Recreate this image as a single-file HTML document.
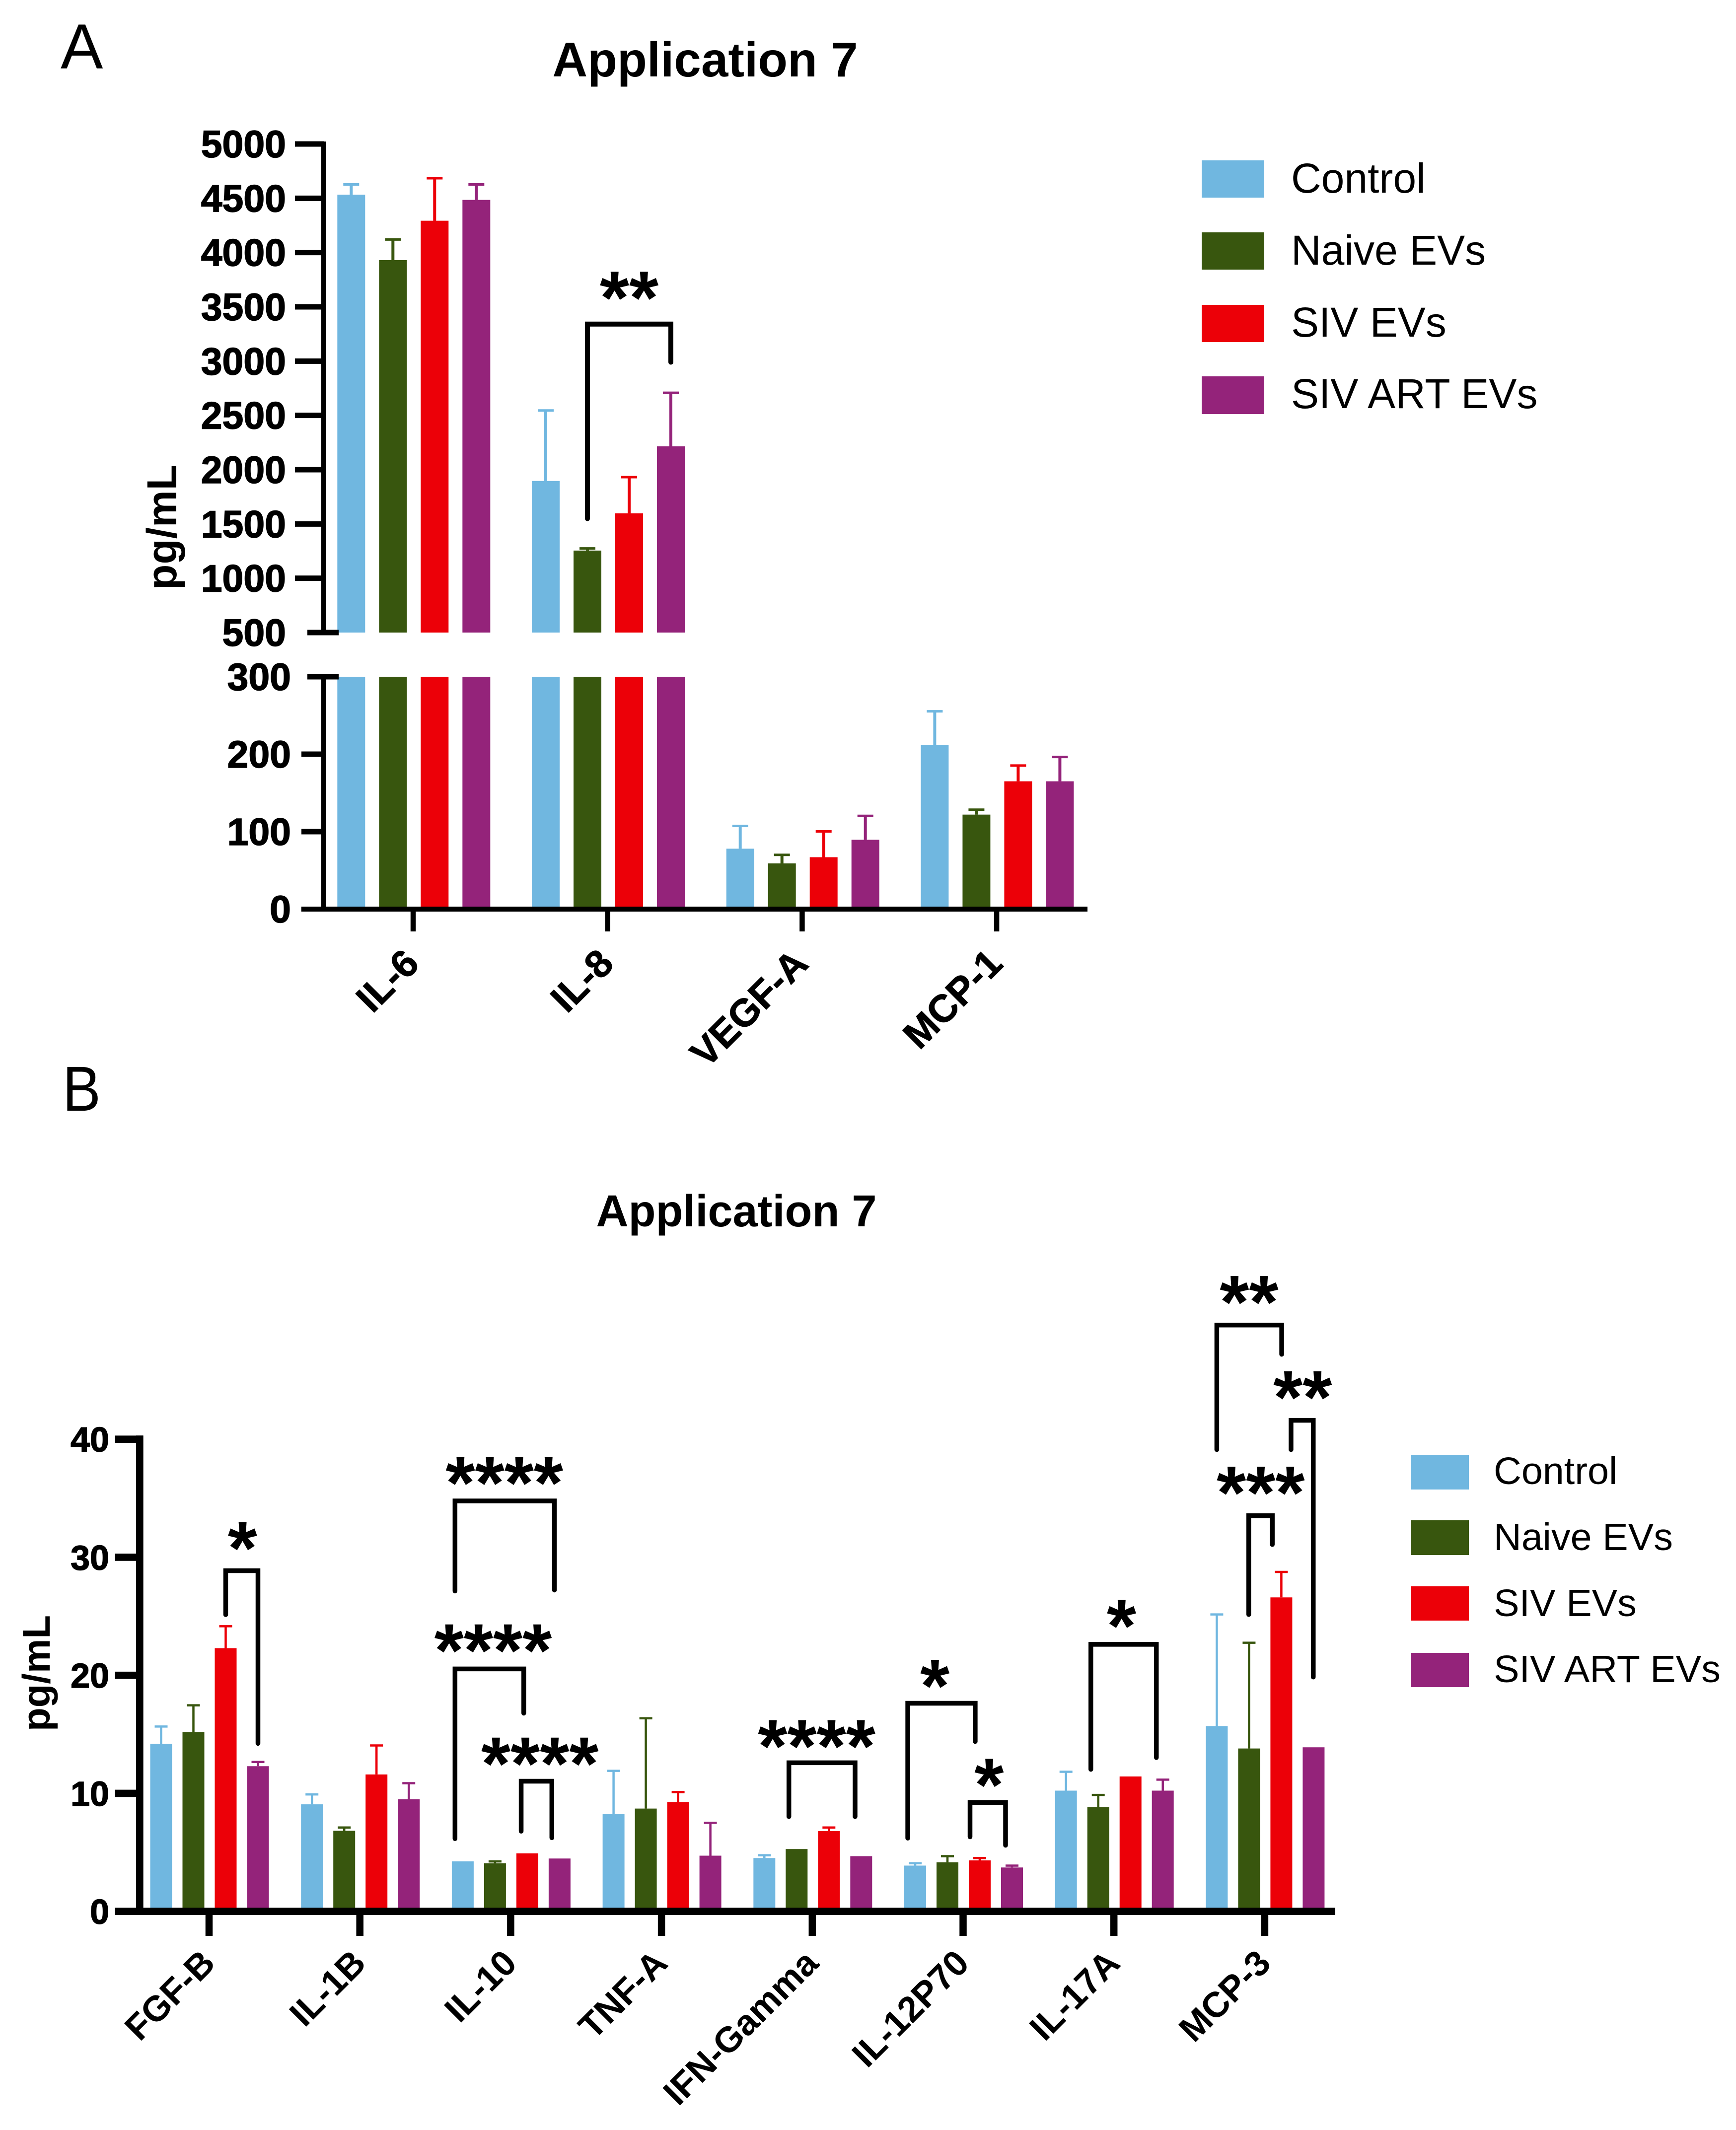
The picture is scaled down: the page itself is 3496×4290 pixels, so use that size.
<!DOCTYPE html>
<html lang="en">
<head>
<meta charset="utf-8">
<title>Application 7 cytokine bar charts</title>
<style>
html,body{margin:0;padding:0;background:#fff;}
svg{display:block;font-family:"Liberation Sans",Arial,sans-serif;}
text{fill:#000;}
.s0{fill:#70b7e0;}.s1{fill:#38560e;}.s2{fill:#ec0008;}.s3{fill:#94237a;}
.e0{stroke:#70b7e0;}.e1{stroke:#38560e;}.e2{stroke:#ec0008;}.e3{stroke:#94237a;}
.axis{stroke:#000;fill:none;}
.bracket{stroke:#000;fill:none;stroke-linecap:round;stroke-linejoin:miter;}
.panel{font-size:128px;}
.title{font-weight:700;text-anchor:middle;}
.tick-a{font-weight:700;font-size:77px;text-anchor:end;stroke:#000;stroke-width:1.5px;}
.tick-b{font-weight:700;font-size:70px;text-anchor:end;stroke:#000;stroke-width:1.5px;}
.cat-a{font-weight:700;font-size:78px;text-anchor:end;stroke:#000;stroke-width:1px;}
.cat-b{font-weight:700;font-size:72px;text-anchor:end;}
.stars{font-weight:700;font-size:152px;text-anchor:middle;}
.legend-a{font-size:84px;}
.legend-b{font-size:77.3px;}
.ytitle{font-weight:700;text-anchor:middle;}
</style>
</head>
<body>
<svg id="figure" xmlns="http://www.w3.org/2000/svg" width="3496" height="4290" viewBox="0 0 3496 4290">
  <rect x="0" y="0" width="3496" height="4290" fill="#fff"/>
  <text class="panel" x="122" y="138">A</text>
  <text class="panel" transform="translate(126 2237) scale(0.9 1)" x="0" y="0">B</text>
  <text class="title" x="1420" y="154" font-size="98">Application 7</text>
  <text class="title" x="1483" y="2470" font-size="90">Application 7</text>
  <text class="ytitle" transform="translate(355 1062) rotate(-90)" font-size="84">pg/mL</text>
  <text class="ytitle" transform="translate(100 3370) rotate(-90)" font-size="78">pg/mL</text>

  <g>
    <rect class="s0" x="2420" y="323" width="126" height="75"/>
    <text class="legend-a" x="2600" y="388">Control</text>
    <rect class="s1" x="2420" y="468" width="126" height="75"/>
    <text class="legend-a" x="2600" y="533">Naive EVs</text>
    <rect class="s2" x="2420" y="614" width="126" height="75"/>
    <text class="legend-a" x="2600" y="678">SIV EVs</text>
    <rect class="s3" x="2420" y="758" width="126" height="76"/>
    <text class="legend-a" x="2600" y="822">SIV ART EVs</text>
  </g>
  <g>
    <rect class="s0" x="2842" y="2930" width="116" height="70"/>
    <text class="legend-b" x="3008" y="2989">Control</text>
    <rect class="s1" x="2842" y="3062" width="116" height="70"/>
    <text class="legend-b" x="3008" y="3122">Naive EVs</text>
    <rect class="s2" x="2842" y="3195" width="116" height="69"/>
    <text class="legend-b" x="3008" y="3255">SIV EVs</text>
    <rect class="s3" x="2842" y="3329" width="116" height="69"/>
    <text class="legend-b" x="3008" y="3388">SIV ART EVs</text>
  </g>
  <g id="chart-a"></g>
  <g id="chart-b"></g>
</svg>
<script>
// ---------- Chart A data ----------
const seriesNames = ['control', 'naive-evs', 'siv-evs', 'siv-art-evs'];
const categoriesA = ['IL-6', 'IL-8', 'VEGF-A', 'MCP-1'];
const controlA = [4533, 1896, 78, 212];
const naiveA = [3930, 1255, 59, 122];
const sivA = [4293, 1598, 67, 165];
const artA = [4485, 2215, 89.5, 165];
const controlTopA = [4632, 2550, 108, 256];
const naiveTopA = [4125, 1279, 70.7, 129];
const sivTopA = [4689, 1936, 101, 186];
const artTopA = [4632, 2713, 121, 197];
const ticksUpperA = [500, 1000, 1500, 2000, 2500, 3000, 3500, 4000, 4500, 5000];
const ticksLowerA = [0, 100, 200, 300];

// ---------- Chart B data ----------
const categoriesB = ['FGF-B', 'IL-1B', 'IL-10', 'TNF-A', 'IFN-Gamma', 'IL-12P70', 'IL-17A', 'MCP-3'];
const controlB = [14.2, 9.07, 4.24, 8.23, 4.52, 3.88, 10.23, 15.7];
const naiveB = [15.2, 6.83, 4.08, 8.71, 5.28, 4.16, 8.83, 13.8];
const sivB = [22.3, 11.6, 4.92, 9.27, 6.8, 4.32, 11.43, 26.6];
const artB = [12.3, 9.5, 4.48, 4.72, 4.68, 3.72, 10.23, 13.9];
const controlTopB = [15.7, 9.95, null, 11.95, 4.8, 4.12, 11.87, 25.2];
const naiveTopB = [17.5, 7.15, 4.28, 16.4, null, 4.72, 9.91, 22.8];
const sivTopB = [24.2, 14.1, null, 10.15, 7.15, 4.56, null, 28.8];
const artTopB = [12.7, 10.9, null, 7.55, null, 3.92, 11.2, null];
const ticksB = [0, 10, 20, 30, 40];

// ---------- Significance annotations (group, bar positions, axis values) ----------
const bracketGroupsA = [1];
const bracketLeftA = [1];
const bracketRightA = [3];
const bracketTopA = [3341];
const bracketLeftEndA = [1549];
const bracketRightEndA = [2990];
const bracketStarsA = ['**'];
const bracketStarPosA = [2];
const bracketStarValA = [3674];

const bracketGroupsB = [0, 2, 2, 2, 4, 5, 5, 6, 7, 7, 7];
const bracketLeftB = [2, -0.24, -0.24, 1.81, 0.76, -0.23, 1.7, 0.77, 0.99, 2.3, 0];
const bracketRightB = [3, 2.84, 1.89, 2.76, 2.81, 1.86, 2.8, 2.8, 1.72, 2.99, 2.01];
const bracketTopB = [28.86, 34.77, 20.54, 11.03, 12.59, 17.63, 9.23, 22.62, 33.52, 41.6, 49.67];
const bracketLeftEndB = [25.14, 27.14, 6.16, 6.79, 8.03, 6.2, 6.31, 12.03, 25.15, 39.12, 39.12];
const bracketRightEndB = [14.23, 27.22, 16.79, 6.24, 8.03, 14.39, 5.6, 13.03, 31.08, 19.85, 47.19];
const bracketStarsB = ['*', '****', '****', '****', '****', '*', '*', '*', '***', '**', '**'];
const bracketStarPosB = [2.52, 1.29, 0.94, 2.39, 1.62, 0.61, 2.29, 1.72, 1.36, 2.66, 1.0];
const bracketStarValB = [31.6, 37.13, 22.94, 13.35, 14.83, 19.94, 11.55, 25.02, 36.3, 44.38, 52.45];

const SVGNS = 'http://www.w3.org/2000/svg';
function make(parent, tag, attrs) {
  const el = document.createElementNS(SVGNS, tag);
  for (const k in attrs) el.setAttribute(k, attrs[k]);
  parent.appendChild(el);
  return el;
}
function line(parent, x1, y1, x2, y2, width, cls) {
  return make(parent, 'line', { x1, y1, x2, y2, 'stroke-width': width, class: cls });
}
function slug(s) { return s.toLowerCase().replace(/[^a-z0-9]+/g, '-'); }

// ---------- Chart A axis functions ----------
const A = { upperBase: 1274, upperTop: 290, zeroY: 1831, lowerTopY: 1363, barW: 56, pitch: 84, groupPitch: 391.7, firstBar: 707.3 };
function yUpperA(v) { return A.upperBase - (v - 500) / 4500 * (A.upperBase - A.upperTop); }
function yLowerA(v) { return A.zeroY - v / 300 * (A.zeroY - A.lowerTopY); }
function yValueA(v) { return v >= 500 ? yUpperA(v) : yLowerA(v); }
function xBarA(g, b) { return A.firstBar + A.groupPitch * g + A.pitch * b; }

// ---------- Chart B axis functions ----------
const B = { zeroY: 3849.7, perUnit: 23.775, barW: 44, pitch: 65, groupPitch: 303.7, firstBar: 324.5 };
function yB(v) { return B.zeroY - v * B.perUnit; }
function xBarB(g, b) { return B.firstBar + B.groupPitch * g + B.pitch * b; }

function drawBrackets(root, prefix, groups, lefts, rights, tops, leftEnds, rightEnds, stars, starPos, starVal, xf, yf, width) {
  groups.forEach(function (g, i) {
    const xl = xf(g, lefts[i]);
    const xr = xf(g, rights[i]);
    const p = make(root, 'path', {
      d: 'M' + xl + ' ' + yf(leftEnds[i]) + 'V' + yf(tops[i]) + 'H' + xr + 'V' + yf(rightEnds[i]),
      'stroke-width': width, class: 'bracket'
    });
    
    
    const t = make(root, 'text', { x: xf(g, starPos[i]), y: yf(starVal[i]) + 72, class: 'stars' });
    t.textContent = stars[i];
    
    
  });
}

// ---------- Draw chart A ----------
(function () {
  const root = document.getElementById('chart-a');
  const means = [controlA, naiveA, sivA, artA];
  const tops = [controlTopA, naiveTopA, sivTopA, artTopA];
  categoriesA.forEach(function (cat, g) {
    means.forEach(function (vals, s) {
      const v = vals[g];
      const cx = xBarA(g, s);
      const x = cx - A.barW / 2;
      const low = make(root, 'rect', { x, y: yLowerA(Math.min(v, 300)), width: A.barW, height: A.zeroY - yLowerA(Math.min(v, 300)), class: 's' + s });
      
      
      if (v > 500) {
        const up = make(root, 'rect', { x, y: yUpperA(v), width: A.barW, height: A.upperBase - yUpperA(v), class: 's' + s });
        
        
      }
      const top = tops[s][g];
      if (top !== null) {
        const stem = line(root, cx, yValueA(v), cx, yValueA(top), 6, 'e' + s);
        
        
        const cap = line(root, cx - 16, yValueA(top) + 1, cx + 16, yValueA(top) + 1, 5, 'e' + s);
        
        
      }
    });
    const tx = 832 + A.groupPitch * g;
    const tick = line(root, tx, 1831, tx, 1876, 10.5, 'axis');
    
    
    const lx = tx + 16, ly = 1945;
    const label = make(root, 'text', { x: lx, y: ly, class: 'cat-a', transform: 'rotate(-45 ' + lx + ' ' + ly + ')' });
    label.textContent = cat;
    
    
  });
  const axisUp = line(root, 651.7, 285, 651.7, 1279, 10, 'axis');
  
  
  const axisLow = line(root, 651.7, 1358, 651.7, 1836, 10, 'axis');
  
  
  const xAxis = line(root, 606.7, 1831, 2190, 1831, 10, 'axis');
  
  
  ticksUpperA.forEach(function (v) {
    const y = yUpperA(v);
    const isBreak = v === 500;
    const t = line(root, isBreak ? 619 : 594, y, isBreak ? 682 : 652, y, 11, 'axis');
    
    
    const l = make(root, 'text', { x: 576, y: y + 27, class: 'tick-a' });
    l.textContent = String(v);
    
    
  });
  ticksLowerA.forEach(function (v) {
    const y = yLowerA(v);
    if (v > 0) {
      const isBreak = v === 300;
      const t = line(root, isBreak ? 619 : 607, y, isBreak ? 682 : 652, y, 11, 'axis');
      
      
    }
    const l = make(root, 'text', { x: 586, y: y + 27, class: 'tick-a' });
    l.textContent = String(v);
    
    
  });
  drawBrackets(root, 'chart-a', bracketGroupsA, bracketLeftA, bracketRightA, bracketTopA, bracketLeftEndA, bracketRightEndA,
    bracketStarsA, bracketStarPosA, bracketStarValA, xBarA, yValueA, 10);
})();

// ---------- Draw chart B ----------
(function () {
  const root = document.getElementById('chart-b');
  const means = [controlB, naiveB, sivB, artB];
  const tops = [controlTopB, naiveTopB, sivTopB, artTopB];
  categoriesB.forEach(function (cat, g) {
    means.forEach(function (vals, s) {
      const v = vals[g];
      const cx = xBarB(g, s);
      const bar = make(root, 'rect', { x: cx - B.barW / 2, y: yB(v), width: B.barW, height: B.zeroY - yB(v), class: 's' + s });
      
      
      const top = tops[s][g];
      if (top !== null) {
        const stem = line(root, cx, yB(v), cx, yB(top), 4.5, 'e' + s);
        
        
        const cap = line(root, cx - 13, yB(top) + 1, cx + 13, yB(top) + 1, 4.5, 'e' + s);
        
        
      }
    });
    const tx = 421 + B.groupPitch * g;
    const tick = line(root, tx, 3850, tx, 3899, 14.5, 'axis');
    
    
    const lx = tx + 16, ly = 3958;
    const label = make(root, 'text', { x: lx, y: ly, class: 'cat-b', transform: 'rotate(-45 ' + lx + ' ' + ly + ')' });
    label.textContent = cat;
    
    
  });
  const yAxis = line(root, 281.3, 2891.3, 281.3, 3857, 14.7, 'axis');
  
  
  const xAxis = line(root, 231.7, 3849.7, 2689, 3849.7, 14.7, 'axis');
  
  
  ticksB.forEach(function (v) {
    const y = yB(v);
    if (v > 0) {
      const t = line(root, 231.7, y, 288, y, 14.7, 'axis');
      
      
    }
    const l = make(root, 'text', { x: 220, y: y + 25, class: 'tick-b' });
    l.textContent = String(v);
    
    
  });
  drawBrackets(root, 'chart-b', bracketGroupsB, bracketLeftB, bracketRightB, bracketTopB, bracketLeftEndB, bracketRightEndB,
    bracketStarsB, bracketStarPosB, bracketStarValB, xBarB, yB, 9.5);
})();
</script>
</body>
</html>
